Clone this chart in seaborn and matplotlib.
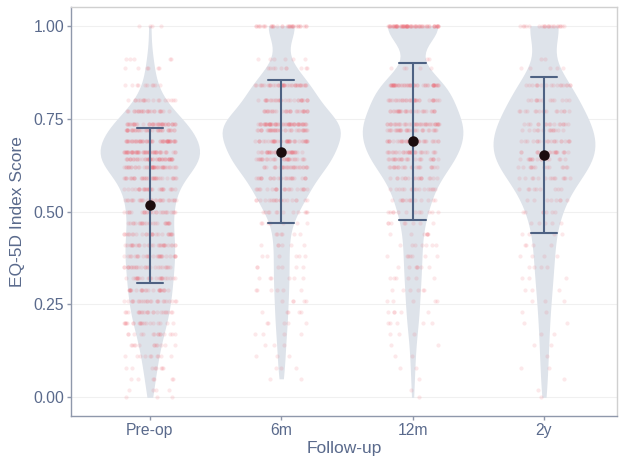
import numpy as np
import pandas as pd
import matplotlib
matplotlib.use("Agg")
import matplotlib.pyplot as plt
import seaborn as sns

# Follow-up time points
visits = ["Pre-op", "6m", "12m", "2y"]

# EQ-5D index score levels and number of patients at each level per visit
score_levels = [1.00, 0.91, 0.885, 0.84, 0.80, 0.77, 0.735, 0.72, 0.69, 0.66,
                0.64, 0.62, 0.59, 0.56, 0.53, 0.50, 0.47, 0.44, 0.41, 0.38,
                0.35, 0.32, 0.29, 0.26, 0.23, 0.20, 0.17, 0.14, 0.11, 0.08,
                0.05, 0.02, 0.00]

n_preop = [4, 5, 6, 10, 18, 25, 42, 36, 54, 52,
           47, 42, 35, 30, 28, 26, 25, 26, 30, 28,
           27, 26, 25, 24, 22, 20, 15, 12, 10, 8,
           6, 4, 3]
n_6m = [34, 6, 10, 40, 30, 30, 55, 35, 40, 35,
        30, 28, 25, 22, 20, 12, 7, 6, 6, 6,
        6, 6, 6, 5, 5, 5, 4, 3, 3, 3,
        2, 0, 0]
n_12m = [72, 2, 5, 50, 32, 30, 40, 30, 35, 30,
         25, 22, 18, 16, 14, 12, 8, 7, 7, 7,
         7, 6, 6, 5, 5, 5, 3, 2, 2, 2,
         1, 1, 1]
n_2y = [22, 2, 5, 18, 13, 16, 16, 14, 20, 17,
        15, 14, 14, 9, 8, 7, 5, 4, 4, 4,
        4, 3, 3, 3, 2, 2, 2, 2, 1, 2,
        1, 1, 1]

counts = {"Pre-op": n_preop, "6m": n_6m, "12m": n_12m, "2y": n_2y}
frames = [pd.DataFrame({"Follow-up": v,
                        "score": np.repeat(score_levels, counts[v])})
          for v in visits]
df = pd.concat(frames, ignore_index=True)

text_col = "#5a6a8c"
sns.set_theme(style="white")
plt.rcParams["font.family"] = ["Liberation Sans", "DejaVu Sans"]

fig = plt.figure(figsize=(6.19, 4.62), dpi=100)
ax = fig.add_axes([0.1147, 0.0996, 0.8821, 0.8852])

sns.violinplot(data=df, x="Follow-up", y="score", order=visits,
               color="#dee3ea", linewidth=0, inner=None, cut=0,
               density_norm="area", width=0.9, bw_method="scott",
               bw_adjust=0.78, saturation=1, ax=ax, zorder=1)

np.random.seed(3)
sns.stripplot(data=df, x="Follow-up", y="score", order=visits,
              color="#f0606c", alpha=0.14, size=3.0, jitter=0.2,
              linewidth=0, ax=ax, zorder=2)

# mean +/- SD
sns.pointplot(data=df, x="Follow-up", y="score", order=visits,
              errorbar="sd", capsize=0.2, color="#4e6283", linestyle="none",
              marker="", err_kws={"linewidth": 1.5}, ax=ax, zorder=3)
sns.pointplot(data=df, x="Follow-up", y="score", order=visits,
              errorbar=None, color="#1c0c0e", linestyle="none",
              marker="o", markersize=5.5, ax=ax, zorder=4)

ax.set_xlim(-0.6, 3.556)
ax.set_ylim(-0.05, 1.05)
ax.set_yticks([0.0, 0.25, 0.5, 0.75, 1.0])
ax.set_yticklabels(["0.00", "0.25", "0.50", "0.75", "1.00"])
ax.yaxis.grid(True, color="#f0f0f0", linewidth=0.8)
ax.set_axisbelow(True)

for side in ["left", "bottom"]:
    ax.spines[side].set_color("#8f98ab")
    ax.spines[side].set_linewidth(1.0)
for side in ["top", "right"]:
    ax.spines[side].set_color("#d0d0d0")
    ax.spines[side].set_linewidth(1.0)

ax.tick_params(axis="both", which="major", length=3, width=1,
               color="#8f98ab", labelcolor=text_col, labelsize=11.3, pad=2,
               left=True, bottom=True)
ax.set_xlabel("Follow-up", fontsize=12.5, color=text_col, labelpad=2)
ax.set_ylabel("EQ-5D Index Score", fontsize=12.5, color=text_col, labelpad=6)

fig.savefig("out.png", dpi=100)
